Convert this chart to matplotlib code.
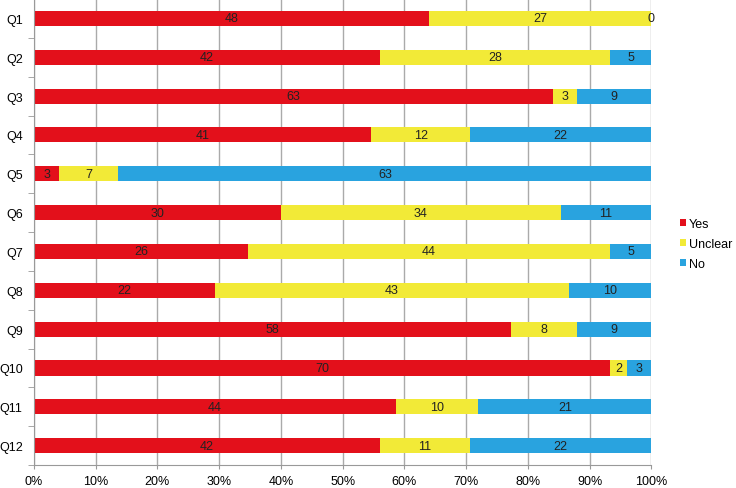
import matplotlib.pyplot as plt
import numpy as np

plt.rcParams['font.family'] = ['Liberation Sans', 'DejaVu Sans']

questions = ['Q1', 'Q2', 'Q3', 'Q4', 'Q5', 'Q6', 'Q7', 'Q8', 'Q9', 'Q10', 'Q11', 'Q12']
yes = [48, 42, 63, 41, 3, 30, 26, 22, 58, 70, 44, 42]
unclear = [27, 28, 3, 12, 7, 34, 44, 43, 8, 2, 10, 11]
no = [0, 5, 9, 22, 63, 11, 5, 10, 9, 3, 21, 22]

series = [('Yes', yes, '#E3101B'), ('Unclear', unclear, '#F2EA37'), ('No', no, '#29A3DF')]

fig = plt.figure(figsize=(7.36, 4.89), dpi=100)
ax = fig.add_axes([0.046, 0.047, 0.839, 0.953])

totals = np.array(yes) + np.array(unclear) + np.array(no)
y = np.arange(len(questions))
left = np.zeros(len(questions))
for name, vals, color in series:
    vals = np.array(vals, dtype=float)
    width = vals / totals
    ax.barh(y, width, left=left, height=0.39, color=color, label=name, zorder=2)
    for yi, l, w, v in zip(y, left, width, vals):
        ax.text(l + w / 2, yi, str(int(v)), ha='center', va='center', fontsize=9, color='#222222', zorder=3)
    left += width

ax.set_ylim(len(questions) - 0.5, -0.5)
ax.set_xlim(0, 1)
ax.set_yticks(y)
ax.set_yticklabels(questions, fontsize=9)
ax.set_yticks(np.arange(-0.5, len(questions), 1), minor=True)
ax.tick_params(axis='y', which='major', length=0, pad=8)
ax.tick_params(axis='y', which='minor', length=4, color='#999999')
ax.set_xticks(np.arange(0, 1.01, 0.1))
ax.set_xticklabels([f'{int(round(t * 100))}%' for t in np.arange(0, 1.01, 0.1)], fontsize=9)
ax.tick_params(axis='x', length=3, color='#999999', pad=4)
ax.grid(axis='x', color='#aaaaaa', linewidth=1, zorder=0)
for s in ['top', 'right']:
    ax.spines[s].set_visible(False)
for s in ['left', 'bottom']:
    ax.spines[s].set_color('#999999')

fig.legend(*ax.get_legend_handles_labels(), loc='center left',
           bbox_to_anchor=(680 / 736, 1 - 245 / 489), bbox_transform=fig.transFigure,
           frameon=False, fontsize=9, borderpad=0, borderaxespad=0,
           handlelength=0.45, handleheight=0.45, handletextpad=0.25, labelspacing=0.65)

fig.savefig('out.png', dpi=100)
